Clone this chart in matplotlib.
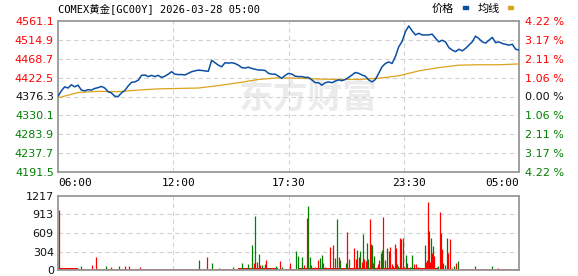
import matplotlib
matplotlib.use("Agg")
import matplotlib.pyplot as plt
from matplotlib.patches import Rectangle
import numpy as np

# price, sampled every 10 minutes from 06:00 to 05:00 next day
price_vals = [
    4377, 4390, 4400, 4397, 4405, 4400, 4404, 4392, 4390, 4393,
    4392, 4396, 4398, 4401, 4397, 4388, 4385, 4377, 4376, 4385,
    4391, 4402, 4411, 4412, 4416, 4428, 4429, 4425, 4428, 4425,
    4428, 4423, 4426, 4431, 4437, 4431, 4430, 4430, 4429, 4433,
    4437, 4439, 4441, 4440, 4439, 4438, 4465, 4459, 4453, 4449,
    4459, 4458, 4459, 4457, 4453, 4447, 4446, 4448, 4445, 4443,
    4441, 4441, 4440, 4433, 4431, 4431, 4426, 4421, 4428, 4433,
    4431, 4426, 4425, 4425, 4423, 4423, 4417, 4410, 4410, 4404,
    4410, 4412, 4410, 4414, 4417, 4415, 4418, 4423, 4429, 4435,
    4433, 4429, 4426, 4417, 4412, 4418, 4433, 4449, 4457, 4461,
    4457, 4474, 4498, 4511, 4535, 4549, 4537, 4527, 4531, 4527,
    4527, 4527, 4529, 4519, 4510, 4514, 4510, 4496, 4490, 4486,
    4492, 4488, 4494, 4502, 4510, 4524, 4518, 4510, 4507, 4514,
    4521, 4508, 4510, 4506, 4504, 4502, 4504, 4492, 4490,
]
# average price, hourly
avg_vals = [
    4373, 4386, 4389, 4388, 4392, 4395, 4396, 4397, 4403, 4410,
    4418, 4422, 4421, 4419, 4418, 4418, 4421, 4427, 4439, 4447,
    4453, 4454, 4454, 4456,
]

# volume spikes (minute offset from 06:00, volume)
up_min = [4, 12, 101, 113, 158, 201, 213, 245, 447, 482, 586, 596, 605, 624,
          665, 694, 737, 746, 769, 779, 799, 814, 824, 840, 866, 879, 887,
          891, 902, 909, 917, 921, 934, 938, 944, 959, 962, 974, 990, 994,
          999, 1004, 1009, 1012, 1024, 1034, 1037, 1044, 1067, 1072, 1079,
          1102, 1106, 1109, 1114, 1121, 1127, 1144, 1150, 1168, 1173, 1179,
          1192, 1318]
up_vol = [987, 40, 80, 220, 50, 70, 70, 50, 219, 30, 110, 137, 82, 165,
          148, 115, 82, 850, 55, 165, 55, 384, 411, 220, 630, 40, 367,
          181, 220, 137, 181, 148, 839, 422, 110, 99, 165, 877, 318, 384,
          99, 60, 422, 357, 521, 532, 55, 110, 99, 99, 45,
          137, 165, 1124, 137, 274, 230, 960, 346, 285, 510, 40,
          110, 35]
down_min = [1, 68, 144, 182, 422, 462, 525, 542, 552, 570, 582, 591, 603,
            611, 620, 635, 653, 670, 713, 719, 730, 748, 753, 757, 784, 789,
            794, 828, 834, 844, 861, 872, 896, 904, 914, 924, 929, 941, 947,
            954, 966, 969, 979, 986, 1016, 1019, 1026, 1041, 1054, 1061, 1099,
            1112, 1118, 1124, 1134, 1138, 1147, 1153, 1158, 1165, 1185, 1198,
            1249, 1298]
down_vol = [197, 70, 65, 70, 165, 110, 45, 30, 110, 95, 411, 888, 263,
            82, 99, 40, 71, 55, 318, 235, 220, 1053, 220, 82, 200, 247,
            110, 200, 839, 165, 110, 183, 329, 318, 587, 439, 181, 411, 230,
            55, 274, 329, 165, 357, 99, 71, 510, 247, 55, 247, 411,
            647, 532, 395, 55, 71, 614, 110, 82, 532, 60, 148,
            60, 60]
# thin strip of small volumes, hourly
base_vol = [25, 22, 20, 22, 20, 20, 22, 20, 22, 25, 25, 22,
            25, 25, 28, 28, 28, 25, 25, 22, 22, 20, 20]

prev_close = 4376.3
price_ticks = [4191.5, 4237.7, 4283.9, 4330.1, 4376.3, 4422.5, 4468.7, 4514.9, 4561.1]
vol_ticks = [0, 304, 609, 913, 1217]
time_ticks = [0, 360, 690, 1050, 1380]
time_labels = ["06:00", "12:00", "17:30", "23:30", "05:00"]

RED = "#ff0000"
GREEN = "#008000"
BLUE = "#0b4fa3"
GOLD = "#dea21c"
GRID = "#d2d2d2"
SPINE = "#999999"

W, H = 578, 276
fig = plt.figure(figsize=(W / 100, H / 100), dpi=100)


def px_box(x0, y0, x1, y1):
    return [x0 / W, 1 - y1 / H, (x1 - x0) / W, (y1 - y0) / H]


def frame(ax):
    for s in ax.spines.values():
        s.set_color(SPINE)
        s.set_linewidth(1.3)
    for m in [345, 690, 1035]:
        ax.axvline(m, color=GRID, lw=0.8, dashes=(4, 3), zorder=0)


# price panel
ax = fig.add_axes(px_box(58, 21, 519, 172))
price_min = np.arange(len(price_vals)) * 10
avg_min = np.arange(len(avg_vals)) * 60
ax.plot(avg_min, avg_vals, color=GOLD, lw=0.9, zorder=3)
ax.plot(price_min, price_vals, color=BLUE, lw=1.1, zorder=4)
ax.set_xlim(0, 1380)
ax.set_ylim(price_ticks[0], price_ticks[-1])
for v in price_ticks[1:-1]:
    ax.axhline(v, color=GRID, lw=0.8, dashes=(4, 3), zorder=0)
frame(ax)
ax.set_yticks(price_ticks)
ax.set_yticklabels([f"{v:.1f}" for v in price_ticks])
ax.set_xticks(time_ticks)
ax.set_xticklabels(time_labels, family="DejaVu Sans Mono", fontsize=7.5)
ax.tick_params(length=0, labelsize=8, pad=3)
ax.tick_params(axis="x", pad=4)
xl = ax.get_xticklabels()
xl[0].set_ha("left")
xl[-1].set_ha("right")


def tick_color(v):
    if abs(v - prev_close) < 0.01:
        return "#111111"
    return RED if v > prev_close else GREEN


for lab, v in zip(ax.get_yticklabels(), price_ticks):
    lab.set_color(tick_color(v))

ax2 = ax.twinx()
ax2.set_ylim(ax.get_ylim())
ax2.set_yticks(price_ticks)
ax2.set_yticklabels([f"{abs(v - prev_close) / prev_close * 100:.2f} %" for v in price_ticks])
ax2.tick_params(length=0, labelsize=8, pad=4)
for s in ax2.spines.values():
    s.set_visible(False)
for lab, v in zip(ax2.get_yticklabels(), price_ticks):
    lab.set_color(tick_color(v))

# volume panel
vax = fig.add_axes(px_box(58, 196, 519, 270))
vax.bar(np.arange(len(base_vol)) * 60, base_vol, width=60, align="edge", color=RED, lw=0)
vax.vlines(down_min, 0, down_vol, colors=GREEN, lw=0.9)
vax.vlines(up_min, 0, up_vol, colors=RED, lw=0.9)
vax.set_xlim(0, 1380)
vax.set_ylim(0, 1217)
for v in vol_ticks[1:-1]:
    vax.axhline(v, color=GRID, lw=0.8, dashes=(4, 3), zorder=0)
frame(vax)
vax.set_xticks([])
vax.set_yticks(vol_ticks)
vax.set_yticklabels([str(v) for v in vol_ticks])
vax.tick_params(length=0, labelsize=8, pad=3, labelcolor="#111111")

# header and legend
fig.text(58 / W, 1 - 9 / H, "COMEX黄金[GC00Y] 2026-03-28 05:00",
         family=["DejaVu Sans Mono", "Noto Sans CJK SC"], fontsize=7.5,
         va="center", ha="left")
fig.text(432 / W, 1 - 9 / H, "价格", family=["Noto Sans CJK SC"], fontsize=8,
         va="center", ha="left")
fig.text(478 / W, 1 - 9 / H, "均线", family=["Noto Sans CJK SC"], fontsize=8,
         va="center", ha="left")
fig.patches.append(Rectangle((463 / W, 1 - 9 / H), 5 / W, 3 / H, color=BLUE,
                             transform=fig.transFigure, figure=fig))
fig.patches.append(Rectangle((508 / W, 1 - 9 / H), 5 / W, 3 / H, color=GOLD,
                             transform=fig.transFigure, figure=fig))

# watermark
fig.text(308 / W, 1 - 97 / H, "东方财富", family=["Noto Sans CJK SC"],
         fontsize=25, fontweight="bold", color="#ebebeb", ha="center",
         va="center", zorder=0)
ax.set_zorder(2)
ax.patch.set_alpha(0)

fig.savefig("out.png", dpi=100)
